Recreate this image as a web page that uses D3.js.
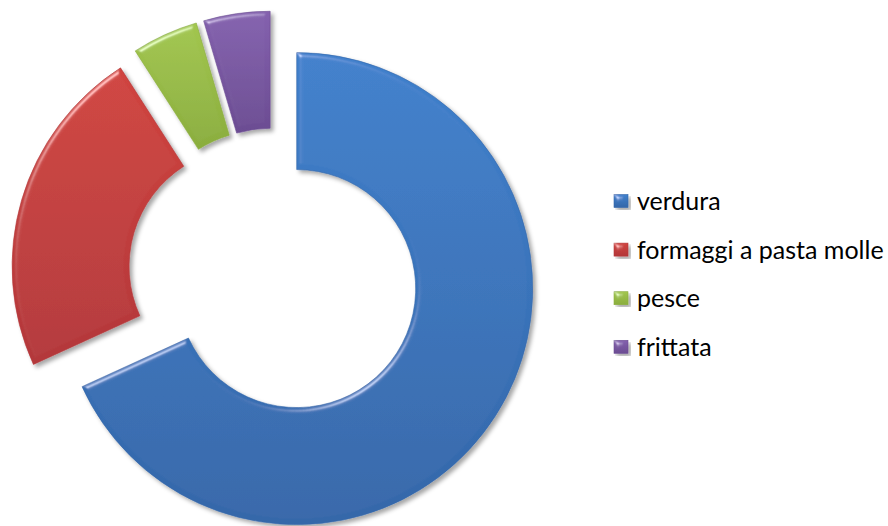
<!DOCTYPE html>
<html>
<head>
<meta charset="utf-8">
<script src="https://cdn.jsdelivr.net/npm/d3@7"></script>
<style>
  html, body { margin: 0; padding: 0; background: #fff; }
  svg { display: block; }
</style>
</head>
<body>
<svg id="chart" width="888" height="526"></svg>
<script>
// Dishes and how many times each was chosen
const categories = ["verdura", "formaggi a pasta molle", "pesce", "frittata"];
const values = [15, 5, 1, 1];
// Slice colours: light (top) and dark (bottom) stops
const colorsLight = ["#3f80cc", "#d0443f", "#a2c64f", "#8461ae"];
const colorsDark  = ["#3467a9", "#b3373a", "#8aad3d", "#6b4c92"];

const width = 888, height = 526;
const cx = 274, cy = 274;
const outerR = 236, innerR = 119;
const explode = 27;

const svg = d3.select("#chart");
const defs = svg.append("defs");

// Soft bevel plus drop shadow
const f = defs.append("filter").attr("id", "bevel")
  .attr("x", "-10%").attr("y", "-10%").attr("width", "125%").attr("height", "125%");
f.append("feGaussianBlur").attr("in", "SourceAlpha").attr("stdDeviation", 2.5).attr("result", "blur");
f.append("feSpecularLighting").attr("in", "blur").attr("surfaceScale", 3)
  .attr("specularConstant", 0.45).attr("specularExponent", 40)
  .attr("lighting-color", "#ffffff").attr("result", "spec")
  .append("feDistantLight").attr("azimuth", 235).attr("elevation", 40);
f.append("feComposite").attr("in", "spec").attr("in2", "SourceAlpha")
  .attr("operator", "in").attr("result", "specIn");
f.append("feComposite").attr("in", "SourceGraphic").attr("in2", "specIn")
  .attr("operator", "arithmetic").attr("k1", 0).attr("k2", 1).attr("k3", 1).attr("k4", 0)
  .attr("result", "lit");
f.append("feGaussianBlur").attr("in", "SourceAlpha").attr("stdDeviation", 2).attr("result", "sblur");
f.append("feOffset").attr("in", "sblur").attr("dx", 2.5).attr("dy", 2.5).attr("result", "soff");
f.append("feFlood").attr("flood-color", "#000").attr("flood-opacity", 0.35).attr("result", "sc");
f.append("feComposite").attr("in", "sc").attr("in2", "soff").attr("operator", "in").attr("result", "shadow");
const m = f.append("feMerge");
m.append("feMergeNode").attr("in", "shadow");
m.append("feMergeNode").attr("in", "lit");

// Vertical gradients per category
categories.forEach((c, i) => {
  const g = defs.append("linearGradient").attr("id", "grad" + i)
    .attr("x1", 0).attr("y1", 0).attr("x2", 0).attr("y2", 1);
  g.append("stop").attr("offset", "0%").attr("stop-color", colorsLight[i]);
  g.append("stop").attr("offset", "100%").attr("stop-color", colorsDark[i]);
});

const pie = d3.pie().sort(null).value(d => d);
const arcs = pie(values);
const arc = d3.arc().innerRadius(innerR).outerRadius(outerR);

const plot = svg.append("g").attr("transform", `translate(${cx},${cy})`);
plot.selectAll("path.slice")
  .data(arcs)
  .join("path")
  .attr("class", "slice")
  .attr("d", arc)
  .attr("fill", (d, i) => `url(#grad${i})`)
  .attr("stroke", (d, i) => colorsDark[i])
  .attr("stroke-width", 0.6)
  .attr("filter", "url(#bevel)")
  .attr("transform", d => {
    const a = (d.startAngle + d.endAngle) / 2;
    return `translate(${explode * Math.sin(a)},${-explode * Math.cos(a)})`;
  });

// Legend
const legend = svg.append("g").attr("transform", "translate(614,201)");
const rowH = 48.6;
const item = legend.selectAll("g.item")
  .data(categories)
  .join("g")
  .attr("class", "item")
  .attr("transform", (d, i) => `translate(0,${i * rowH})`);
item.append("rect")
  .attr("x", 0).attr("y", -6.5).attr("width", 14).attr("height", 13)
  .attr("fill", (d, i) => `url(#grad${i})`)
  .attr("stroke", (d, i) => colorsDark[i]).attr("stroke-width", 0.6)
  .attr("filter", "url(#bevel)");
item.append("text")
  .attr("x", 23).attr("y", 0).attr("dy", "0.36em")
  .attr("font-family", "Lato, 'Noto Sans', sans-serif")
  .attr("font-size", 25)
  .attr("fill", "#000")
  .text(d => d);
</script>
</body>
</html>
